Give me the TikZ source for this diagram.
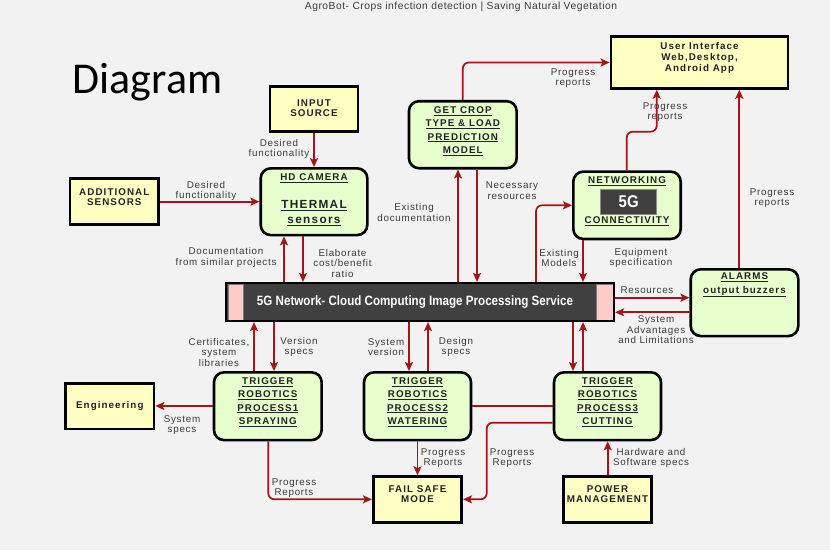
\documentclass[tikz,border=0pt]{standalone}
\usepackage{fontspec}
\usepackage{graphicx}
\setmainfont{Liberation Sans}
\newfontfamily\boxfont[LetterSpace=11]{Liberation Sans}
\newfontfamily\lblfont[LetterSpace=7.5]{Liberation Sans}
\newfontfamily\titlefont[LetterSpace=5]{Liberation Sans}
\newfontfamily\diagfont{Carlito}
\usetikzlibrary{arrows.meta}
\definecolor{bgc}{HTML}{F2F2F2}
\definecolor{yel}{HTML}{FFFFC4}
\definecolor{grn}{HTML}{E6FFCC}
\definecolor{ared}{HTML}{A51515}
\definecolor{txtd}{HTML}{222222}
\definecolor{lblc}{HTML}{3A3A3A}
\definecolor{barc}{HTML}{404040}
\definecolor{pinkc}{HTML}{FFCCCC}
\begin{document}
\begin{tikzpicture}[x=1pt,y=-1pt,
  ybox/.style={draw=black, line width=2.8pt, fill=yel, inner sep=0pt},
  gbox/.style={draw=black, line width=2.6pt, fill=grn, rounded corners=10pt, inner sep=0pt},
  btext/.style={font=\boxfont\bfseries\fontsize{9.8}{10.5}\selectfont, text=txtd, align=center, inner sep=0pt},
  gtext/.style={font=\boxfont\bfseries\fontsize{9.8}{13.3}\selectfont, text=txtd, align=center, inner sep=0pt},
  lbl/.style={font=\lblfont\fontsize{9.8}{10.5}\selectfont, text=lblc, align=center, inner sep=0pt},
  arr/.style={draw=ared, line width=1.7pt, -{Stealth[length=9pt,width=8pt,inset=2pt]}, rounded corners=6pt},
  plainline/.style={draw=ared, line width=1.7pt}
]
\fill[bgc] (0,0) rectangle (830,550);
\useasboundingbox (0,0) rectangle (830,550);

% title
\node[font=\titlefont\fontsize{10.3}{11}\selectfont, text=lblc, inner sep=0pt] (title) at (461,7) {AgroBot- Crops infection detection | Saving Natural Vegetation};
\node[font=\diagfont\fontsize{44}{46}\selectfont, text=black, inner sep=0pt, anchor=base] (diag) at (147.5,93) {Diagram};

% boxes
\node[ybox, minimum width=177pt, minimum height=51.7pt] (ui) at (699.5,62.5) {};
\node[btext, font=\boxfont\bfseries\fontsize{9.8}{11}\selectfont] (uiT) at (699.5,58) {User Interface\\Web,Desktop,\\Android App};

\node[ybox, minimum width=88pt, minimum height=45pt] (input) at (314,109) {};
\node[btext] (inputT) at (314,108) {INPUT\\SOURCE};

\node[ybox, minimum width=88.7pt, minimum height=46pt] (addl) at (114.3,201.3) {};
\node[btext] (addlT) at (114.3,197) {ADDITIONAL\\SENSORS};

\node[gbox, minimum width=106.6pt, minimum height=66.7pt] (hd) at (314,201.7) {};
\node[gtext] (hdT1) at (314,178) {\underline{HD CAMERA}};
\node[gtext, font=\boxfont\bfseries\fontsize{11.8}{15}\selectfont] (hdT2) at (314,213) {\underline{THERMAL}\\\underline{sensors}};

\node[gbox, minimum width=107.7pt, minimum height=67pt] (getcrop) at (462.8,134.7) {};
\node[gtext] (getcropT) at (462.8,131) {\underline{GET CROP}\\\underline{TYPE \& LOAD}\\\underline{PREDICTION}\\\underline{MODEL}};

\node[gbox, minimum width=107.4pt, minimum height=67.3pt] (net) at (627,205.3) {};
\node[gtext] (netT1) at (627,181.5) {\underline{NETWORKING}};
\node[fill=barc, draw=barc!60, line width=0.8pt, minimum width=56pt, minimum height=24.7pt, inner sep=0pt] (fiveg) at (628.7,201.7) {};
\node[text=white, inner sep=0pt] (fivegT) at (628.7,201.7) {\resizebox{20pt}{\height}{\fontsize{17}{17}\selectfont\bfseries 5G}};
\node[gtext] (netT2) at (627,221.5) {\underline{CONNECTIVITY}};

\node[gbox, minimum width=107.6pt, minimum height=66.7pt] (alarms) at (744.5,302.7) {};
\node[gtext] (alarmsT) at (744.5,285) {\underline{ALARMS}\\\underline{output buzzers}};

% central bar
\node[fill=barc, minimum width=388pt, minimum height=38pt, inner sep=0pt] (central) at (420,302) {};
\node[fill=pinkc, draw=barc!70, line width=0.8pt, minimum width=15pt, minimum height=36pt, inner sep=0pt] (pinkL) at (235.8,302) {};
\node[fill=pinkc, draw=barc!70, line width=0.8pt, minimum width=17pt, minimum height=36pt, inner sep=0pt] (pinkR) at (604.7,302) {};
\node[draw=black, line width=2.2pt, minimum width=388pt, minimum height=38pt, inner sep=0pt] (centralB) at (420,302) {};
\node[text=white, inner sep=0pt] (centralT) at (415,302) {\resizebox{316pt}{\height}{\fontsize{13.5}{14}\selectfont\bfseries 5G Network- Cloud Computing Image Processing Service}};

\node[gbox, minimum width=107.7pt, minimum height=67.7pt] (t1) at (267.8,406.2) {};
\node[gtext] (t1T) at (267.8,402) {\underline{TRIGGER}\\\underline{ROBOTICS}\\\underline{PROCESS1}\\\underline{SPRAYING}};
\node[gbox, minimum width=107pt, minimum height=67.7pt] (t2) at (417.5,406.2) {};
\node[gtext] (t2T) at (417.5,402) {\underline{TRIGGER}\\\underline{ROBOTICS}\\\underline{PROCESS2}\\\underline{WATERING}};
\node[gbox, minimum width=107pt, minimum height=67.7pt] (t3) at (607.5,406.2) {};
\node[gtext] (t3T) at (607.5,402) {\underline{TRIGGER}\\\underline{ROBOTICS}\\\underline{PROCESS3}\\\underline{CUTTING}};

\node[ybox, minimum width=88.3pt, minimum height=45.7pt] (eng) at (109.8,406.2) {};
\node[btext] (engT) at (109.8,406) {Engineering};
\node[ybox, minimum width=88.3pt, minimum height=45.7pt] (fail) at (417.5,499.5) {};
\node[btext] (failT) at (417.5,494) {FAIL SAFE\\MODE};
\node[ybox, minimum width=88.3pt, minimum height=45.7pt] (power) at (607.5,499.5) {};
\node[btext] (powerT) at (607.5,494.3) {POWER\\MANAGEMENT};

% connectors
\coordinate (k1) at (626.7,131.7);
\coordinate (k2) at (656.7,131.7);
\coordinate (k3) at (486.7,422.7);
\coordinate (k4) at (486.7,499.3);

\draw[arr] (getcrop.north) |- (ui.west);
\draw[arr] (net.north -| 626.7,0) -- (k1) -- (k2) -- (ui.south -| k2);
\draw[arr] (alarms.north -| 739.3,0) -- (ui.south -| 739.3,0);
\draw[arr] (input.south) -- (hd.north);
\draw[arr] (addl.east |- 0,201.7) -- (hd.west |- 0,201.7);
\draw[arr] (centralB.north -| 284,0) -- (hd.south -| 284,0);
\draw[arr] (hd.south -| 303,0) -- (centralB.north -| 303,0);
\draw[arr] (centralB.north -| 458,0) -- (getcrop.south -| 458,0);
\draw[arr] (getcrop.south -| 477,0) -- (centralB.north -| 477,0);
\draw[arr] (centralB.north -| 536,0) |- (net.west);
\draw[arr] (net.south -| 583,0) -- (centralB.north -| 583,0);
\draw[arr] (centralB.east |- 0,297.7) -- (alarms.west |- 0,297.7);
\draw[arr] (alarms.west |- 0,312.3) -- (centralB.east |- 0,312.3);
\draw[arr] (t1.north -| 254,0) -- (centralB.south -| 254,0);
\draw[arr] (centralB.south -| 274,0) -- (t1.north -| 274,0);
\draw[arr] (centralB.south -| 409,0) -- (t2.north -| 409,0);
\draw[arr] (t2.north -| 428,0) -- (centralB.south -| 428,0);
\draw[arr] (centralB.south -| 573,0) -- (t3.north -| 573,0);
\draw[arr] (t3.north -| 583,0) -- (centralB.south -| 583,0);
\draw[arr] (t1.west |- 0,406) -- (eng.east |- 0,406);
\draw[arr] (t1.south -| 268.3,0) |- (fail.west |- 0,499.3);
\draw[arr] (t2.south) -- (fail.north);
\draw[arr] (t3.west |- k3) -- (k3) -- (k4) -- (fail.east |- k4);
\draw[plainline] (t2.east |- 0,406) -- (t3.west |- 0,406);
\draw[arr] (power.north -| 607.7,0) -- (t3.south -| 607.7,0);

% labels
\node[lbl] (l1) at (573,78) {Progress\\reports};
\node[lbl] (l2) at (665,112) {Progress\\reports};
\node[lbl] (l3) at (772,198) {Progress\\reports};
\node[lbl] (l4) at (279,149) {Desired\\functionality};
\node[lbl] (l5) at (206,191) {Desired\\functionality};
\node[lbl] (l6) at (226,257.5) {Documentation\\from similar projects};
\node[lbl] (l7) at (342.5,263) {Elaborate\\cost/benefit\\ratio};
\node[lbl] (l8) at (414,212.5) {Existing\\documentation};
\node[lbl] (l9) at (512,190.5) {Necessary\\resources};
\node[lbl] (l10) at (559,258) {Existing\\Models};
\node[lbl] (l11) at (641,258) {Equipment\\specification};
\node[lbl] (l12) at (647,290) {Resources};
\node[lbl] (l13) at (656,330) {System\\Advantages\\and Limitations};
\node[lbl] (l14) at (219,352) {Certificates,\\system\\libraries};
\node[lbl] (l15) at (299,347) {Version\\specs};
\node[lbl] (l16) at (386,347) {System\\version};
\node[lbl] (l17) at (456,347) {Design\\specs};
\node[lbl] (l18) at (182,425) {System\\specs};
\node[lbl] (l19) at (294,488) {Progress\\Reports};
\node[lbl] (l20) at (443,458) {Progress\\Reports};
\node[lbl] (l21) at (512,458) {Progress\\Reports};
\node[lbl] (l22) at (651,458) {Hardware and\\Software specs};
\end{tikzpicture}
\end{document}
